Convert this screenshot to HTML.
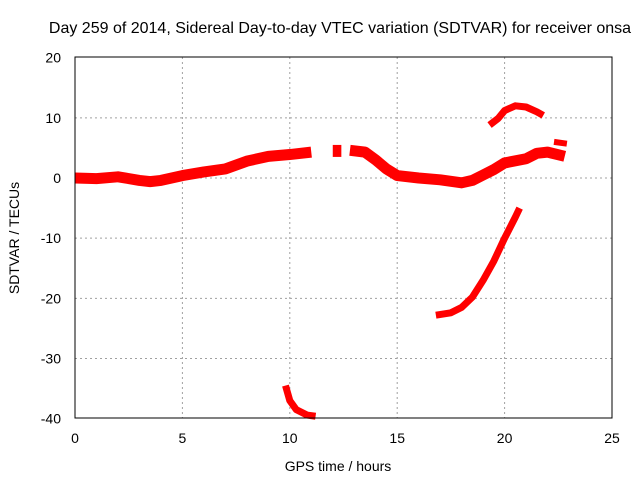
<!DOCTYPE html>
<html><head><meta charset="utf-8"><style>
body{margin:0;background:#fff;}
svg{display:block;font-family:"Liberation Sans",sans-serif;}
</style></head><body>
<svg id="chart" width="640" height="480">
<text x="340" y="33" font-size="16" text-anchor="middle">Day 259 of 2014, Sidereal Day-to-day VTEC variation (SDTVAR) for receiver onsa</text>
<text x="338" y="471" font-size="14" text-anchor="middle">GPS time / hours</text>
<text transform="translate(19,238) rotate(-90)" font-size="14" text-anchor="middle">SDTVAR / TECUs</text>
<g id="grid"></g><g id="ticks"></g><g id="series"></g>
<rect x="75" y="57" width="537" height="361" fill="none" stroke="#000" stroke-width="1"/>
</svg>
<script>
const xTicks=[0,5,10,15,20,25];
const yTicks=[20,10,0,-10,-20,-30,-40];
const mainA=[[0,0],[1,-0.1],[2,0.2],[3,-0.4],[3.5,-0.6],[4,-0.4],[5,0.4],[6,1],[7,1.5],[8,2.8],[9,3.6],[10,3.9],[11,4.3]];
const mainB=[[12,4.5],[12.4,4.5]];
const mainC=[[12.8,4.6],[13.5,4.3],[14,3],[14.5,1.5],[15,0.4],[16,0],[17,-0.3],[18,-0.8],[18.5,-0.4],[19,0.5],[19.5,1.4],[20,2.5],[21,3.2],[21.5,4.1],[22,4.3],[22.8,3.6]];
const blip=[[22.3,6],[22.9,5.7]];
const upperArc=[[19.3,8.8],[19.7,9.9],[20,11.2],[20.5,12],[21,11.8],[21.5,11],[21.8,10.4]];
const lowerRise=[[16.8,-22.8],[17.5,-22.4],[18,-21.5],[18.5,-19.8],[19,-17],[19.5,-13.8],[20,-10],[20.5,-6.5],[20.7,-5]];
const lowTail=[[9.8,-34.5],[10,-37],[10.3,-38.5],[10.8,-39.4],[11.2,-39.6]];
const X=v=>75+v*537/25, Y=v=>178-v*361/60;
const ns="http://www.w3.org/2000/svg";
const g=document.getElementById('grid'),t=document.getElementById('ticks'),s=document.getElementById('series');
function mk(tag,a,p){const e=document.createElementNS(ns,tag);for(const k in a)e.setAttribute(k,a[k]);p.appendChild(e);return e;}
xTicks.forEach(v=>{
 if(v>0&&v<25){const l=mk('line',{x1:X(v),x2:X(v),y1:57,y2:418,stroke:'#a0a0a0','stroke-dasharray':'2,3'},g);
 
 }
 const tx=mk('text',{x:X(v),y:443,'font-size':14,'text-anchor':'middle'},t);tx.textContent=v;
 
 
});
yTicks.forEach(v=>{
 if(v>-40&&v<20){const l=mk('line',{x1:75,x2:612,y1:Y(v),y2:Y(v),stroke:'#a0a0a0','stroke-dasharray':'2,3'},g);
 
 }
 const tx=mk('text',{x:61,y:Y(v)+5,'font-size':14,'text-anchor':'end'},t);tx.textContent=v;
 
 
});
[[mainA,11,'main-series-a'],[mainB,12,'main-series-b'],[mainC,11,'main-series-c'],[blip,6,'blip-series'],[upperArc,7,'upper-arc-series'],[lowerRise,7,'lower-rise-series'],[lowTail,7,'low-tail-series']].forEach(([d,w,n])=>{
 const p=mk('polyline',{points:d.map(q=>X(q[0])+','+Y(q[1])).join(' '),fill:'none',stroke:'#ff0000','stroke-width':w,'stroke-linejoin':'round'},s);
 
 
});
</script>
</body></html>
